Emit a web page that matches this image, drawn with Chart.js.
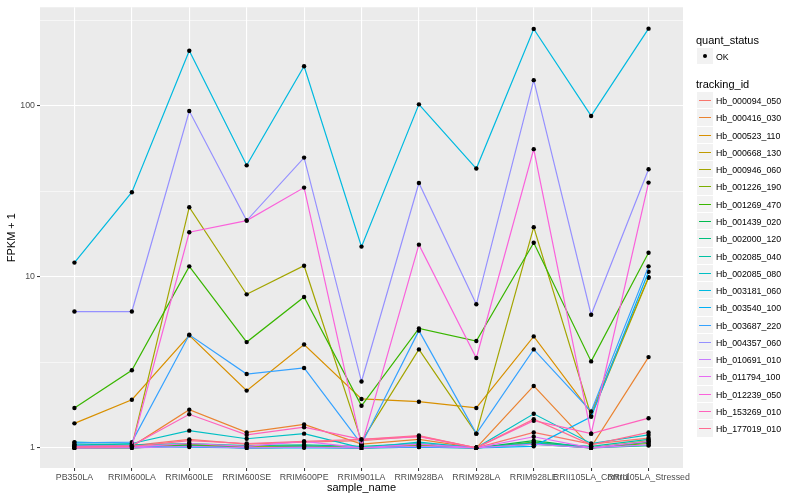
<!DOCTYPE html>
<html>
<head>
<meta charset="utf-8">
<script src="https://cdn.jsdelivr.net/npm/chart.js@4.4.1/dist/chart.umd.min.js"></script>
<style>
  body { margin: 0; background: #fff; font-family: "Liberation Sans", Arial, sans-serif; }
  #wrap { position: relative; width: 800px; height: 500px; }
  #myChart { position: absolute; left: 0; top: 0; }
  .lg-title { position: absolute; left: 696px; font-size: 11px; line-height: 14px; color: #000; white-space: nowrap; }
  .lg-key { position: absolute; left: 697px; width: 16px; background: #F2F2F2; box-sizing: border-box; border-bottom: 1px solid #fff; }
  .lg-text { position: absolute; left: 716px; font-size: 8.8px; line-height: 12px; color: #000; white-space: nowrap; }
</style>
</head>
<body>
<div id="wrap">
  <canvas id="myChart" width="800" height="500"></canvas>
  <div id="legend"></div>
</div>
<script>
// x categories
const sampleNames = ['PB350LA', 'RRIM600LA', 'RRIM600LE', 'RRIM600SE', 'RRIM600PE', 'RRIM901LA',
  'RRIM928BA', 'RRIM928LA', 'RRIM928LE', 'RRII105LA_Control', 'RRII105LA_Stressed'];

const trackingIds = ['Hb_000094_050', 'Hb_000416_030', 'Hb_000523_110', 'Hb_000668_130', 'Hb_000946_060',
  'Hb_001226_190', 'Hb_001269_470', 'Hb_001439_020', 'Hb_002000_120', 'Hb_002085_040',
  'Hb_002085_080', 'Hb_003181_060', 'Hb_003540_100', 'Hb_003687_220', 'Hb_004357_060',
  'Hb_010691_010', 'Hb_011794_100', 'Hb_012239_050', 'Hb_153269_010', 'Hb_177019_010'];

const trackingColors = ['#F8766D', '#EA8331', '#D89000', '#C09B00', '#A3A500',
  '#7CAE00', '#39B600', '#00BB4E', '#00BF7D', '#00C1A3',
  '#00BFC4', '#00BAE0', '#00B0F6', '#35A2FF', '#9590FF',
  '#C77CFF', '#E76BF3', '#FA62DB', '#FF62BC', '#FF6C91'];

// FPKM + 1 per sample
const hb000094_050 = [1.02, 1.03, 1.12, 1.05, 1.08, 1.10, 1.17, 1.00, 1.23, 1.05, 1.14];
const hb000416_030 = [1.01, 1.02, 1.67, 1.23, 1.37, 1.05, 1.12, 1.00, 2.30, 1.01, 3.39];
const hb000523_110 = [1.39, 1.91, 4.54, 2.16, 4.02, 1.93, 1.86, 1.71, 4.48, 1.60, 9.95];
const hb000668_130 = [1.00, 1.01, 1.05, 1.02, 1.03, 1.00, 1.04, 1.00, 1.06, 1.00, 1.10];
const hb000946_060 = [1.01, 1.02, 25.5, 7.89, 11.6, 1.09, 3.76, 1.21, 19.5, 1.54, 9.87];
const hb001226_190 = [1.00, 1.00, 1.04, 1.01, 1.02, 1.00, 1.03, 1.00, 1.08, 1.00, 1.06];
const hb001269_470 = [1.71, 2.84, 11.5, 4.15, 7.62, 1.76, 4.99, 4.21, 15.8, 3.20, 13.8];
const hb001439_020 = [1.00, 1.00, 1.03, 1.00, 1.01, 1.00, 1.02, 1.00, 1.10, 1.00, 1.08];
const hb002000_120 = [1.02, 1.01, 1.02, 1.00, 1.01, 1.00, 1.01, 1.00, 1.05, 1.00, 1.03];
const hb002085_040 = [1.05, 1.04, 1.06, 1.03, 1.04, 1.02, 1.06, 1.00, 1.07, 1.02, 1.12];
const hb002085_080 = [1.08, 1.06, 1.26, 1.13, 1.21, 1.00, 1.08, 1.00, 1.58, 1.06, 1.19];
const hb003181_060 = [12.1, 31.2, 209.6, 44.8, 170, 15.0, 101.8, 42.9, 281, 87.1, 282];
const hb003540_100 = [1.03, 1.02, 1.01, 1.00, 1.00, 1.00, 1.01, 1.00, 1.02, 1.52, 10.7];
const hb003687_220 = [1.07, 1.08, 4.58, 2.70, 2.93, 1.05, 4.84, 1.21, 3.76, 1.63, 11.5];
const hb004357_060 = [6.26, 6.26, 93.1, 21.3, 49.7, 2.44, 35.3, 6.90, 141, 6.00, 42.5];
const hb010691_010 = [1.00, 1.00, 1.02, 1.00, 1.01, 1.00, 1.02, 1.00, 1.05, 1.00, 1.04];
const hb011794_100 = [1.00, 1.01, 1.06, 1.02, 1.09, 1.00, 1.05, 1.00, 1.16, 1.00, 1.09];
const hb012239_050 = [1.01, 1.02, 18.2, 21.3, 33.2, 1.03, 15.4, 3.35, 55.7, 1.21, 35.5];
const hb153269_010 = [1.02, 1.03, 1.57, 1.19, 1.32, 1.12, 1.16, 1.00, 1.44, 1.21, 1.49];
const hb177019_010 = [1.01, 1.02, 1.10, 1.06, 1.09, 1.12, 1.18, 1.00, 1.47, 1.04, 1.23];

const fpkmSeries = [hb000094_050, hb000416_030, hb000523_110, hb000668_130, hb000946_060,
  hb001226_190, hb001269_470, hb001439_020, hb002000_120, hb002085_040,
  hb002085_080, hb003181_060, hb003540_100, hb003687_220, hb004357_060,
  hb010691_010, hb011794_100, hb012239_050, hb153269_010, hb177019_010];

// log axis breaks (labelled) and in-between minor breaks
const yMajor = [1, 10, 100];
const yMinor = [3.1623, 31.623, 316.23];

const isMajor = (v) => yMajor.some(m => Math.abs(m - v) < 1e-6);

// grey panel behind the plot, like ggplot
const panelBg = {
  id: 'panelBg',
  beforeDraw(chart) {
    const {ctx, chartArea} = chart;
    ctx.save();
    ctx.fillStyle = '#EBEBEB';
    ctx.fillRect(chartArea.left, chartArea.top, chartArea.right - chartArea.left, chartArea.bottom - chartArea.top);
    ctx.restore();
  }
};

let datasets = [];
for (let i = 0; i < trackingIds.length; i++) {
  datasets.push({
    label: trackingIds[i],
    data: fpkmSeries[i].map((v, j) => ({x: j, y: v})),
    borderColor: trackingColors[i],
    backgroundColor: trackingColors[i],
    borderWidth: 1.2,
    pointRadius: 2.2,
    pointStyle: 'circle',
    pointBackgroundColor: '#000',
    pointBorderColor: '#000',
    pointBorderWidth: 0,
    order: trackingIds.length - i,
  });
}

const config = {
  type: 'line',
  data: { datasets: datasets },
  options: {
    responsive: false,
    animation: false,
    layout: { padding: { top: 5, right: 117, left: 0, bottom: 0 } },
    plugins: { legend: { display: false }, tooltip: { enabled: false } },
    scales: {
      x: {
        type: 'linear',
        min: -0.6,
        max: 10.6,
        afterBuildTicks: (scale) => { scale.ticks = sampleNames.map((s, j) => ({value: j})); },
        afterFit: (scale) => { scale.height = 32; },
        ticks: {
          autoSkip: false,
          maxRotation: 0,
          padding: 1,
          color: '#4D4D4D',
          font: { family: 'Liberation Sans', size: 8.8 },
          callback: (value) => sampleNames[value]
        },
        grid: {
          color: '#FFFFFF',
          lineWidth: 1.1,
          tickLength: 3,
          tickColor: '#333333',
          tickWidth: 1
        },
        border: { display: false },
        title: {
          display: true,
          text: 'sample_name',
          color: '#000',
          font: { family: 'Liberation Sans', size: 11 },
          padding: { top: 0, bottom: 5 }
        }
      },
      y: {
        type: 'logarithmic',
        min: 0.762,
        max: 376,
        afterBuildTicks: (scale) => {
          scale.ticks = yMajor.concat(yMinor).sort((a, b) => a - b).map(v => ({value: v, major: isMajor(v)}));
        },
        afterFit: (scale) => { scale.width = 40; },
        ticks: {
          padding: 2,
          color: '#4D4D4D',
          font: { family: 'Liberation Sans', size: 8.8 },
          callback: (value) => isMajor(value) ? String(value) : ''
        },
        grid: {
          color: '#FFFFFF',
          lineWidth: (ctx) => (ctx.tick && isMajor(ctx.tick.value)) ? 1.1 : 0.55,
          tickLength: 3,
          tickColor: (ctx) => (ctx.tick && isMajor(ctx.tick.value)) ? '#333333' : 'rgba(0,0,0,0)',
          tickWidth: 1
        },
        border: { display: false },
        title: {
          display: true,
          text: 'FPKM + 1',
          color: '#000',
          font: { family: 'Liberation Sans', size: 11 },
          padding: { top: 5, bottom: 0 }
        }
      }
    }
  },
  plugins: [panelBg]
};

var myChart = document.getElementById('myChart').getContext('2d');
var theChart = new Chart(myChart, config);

// ggplot-style legend on the right
function buildLegend() {
  const box = document.getElementById('legend');
  let html = '';
  html += '<div class="lg-title" style="top:33px">quant_status</div>';
  html += '<div class="lg-key" style="top:48px;height:17px"><div style="position:absolute;left:6px;top:6px;width:4px;height:4px;border-radius:2px;background:#000"></div></div>';
  html += '<div class="lg-text" style="top:51px">OK</div>';
  html += '<div class="lg-title" style="top:77px">tracking_id</div>';
  const step = 17.28;
  for (let i = 0; i < trackingIds.length; i++) {
    const top = Math.round(92 + step * i);
    const h = Math.round(92 + step * (i + 1)) - top;
    html += '<div class="lg-key" style="top:' + top + 'px;height:' + h + 'px">' +
      '<div style="position:absolute;left:2px;width:12px;top:7.5px;height:1.5px;background:' + trackingColors[i] + '"></div></div>';
    html += '<div class="lg-text" style="top:' + (top + 3) + 'px">' + trackingIds[i] + '</div>';
  }
  box.innerHTML = html;
}
buildLegend();
</script>
</body>
</html>
